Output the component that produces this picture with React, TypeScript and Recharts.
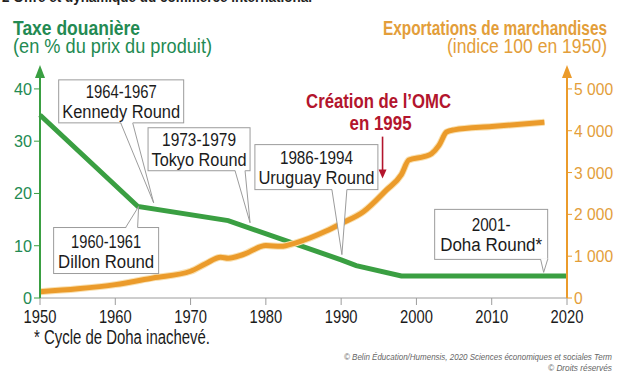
import { LineChart, Line, XAxis, YAxis, ReferenceDot } from "recharts";

// tariff (% of product price)
const tariffYears = [1950, 1963, 1975, 1990, 1992, 1998, 2005, 2020];
const tariffValues = [35, 17.5, 14.8, 7.3, 6.2, 4.2, 4.2, 4.2];

// merchandise exports (index 100 in 1950)
const exportYears = [1950, 1955, 1960, 1965, 1970, 1972, 1974, 1975, 1977, 1980, 1982, 1984, 1988, 1990, 1993, 1996, 1998, 1999, 2001, 2002, 2003, 2004, 2005, 2010, 2017];
const exportValues = [150, 220, 320, 480, 640, 820, 975, 950, 1040, 1255, 1236, 1320, 1600, 1780, 2070, 2580, 2950, 3300, 3380, 3450, 3650, 3970, 4020, 4100, 4200];

const xTicks = [1950, 1960, 1970, 1980, 1990, 2000, 2010, 2020];
const leftTicks = [0, 10, 20, 30, 40];
const rightTicks = [0, 1000, 2000, 3000, 4000, 5000];

// negotiation rounds: label lines + point on the chart they refer to
const rounds = [
  { id: "kennedy", lines: ["1964-1967", "Kennedy Round"], year: 1965.1, value: 18.2 },
  { id: "dillon", lines: ["1960-1961", "Dillon Round"], year: 1963.1, value: 17.5 },
  { id: "tokyo", lines: ["1973-1979", "Tokyo Round"], year: 1977.9, value: 14.4 },
  { id: "uruguay", lines: ["1986-1994", "Uruguay Round"], year: 1990.1, value: 8.3 },
  { id: "doha", lines: ["2001-", "Doha Round*"], year: 2016.9, value: 4.9 },
];

const GREEN = "#3a9f42";
const GREEN_TXT = "#238a52";
const ORANGE = "#eb9b2b";
const ORANGE_TXT = "#e39e3a";
const RED = "#b3152d";
const GREY = "#9c9c9c";
const INK = "#1b1b1b";
const FONT = "'Liberation Sans', Arial, sans-serif";

// box placement relative to the tip of the callout (px), widths of the two text lines
const boxes: Record<string, { dx: number; dy: number; w: number; h: number; t: [number, number]; tw: [number, number] }> = {
  kennedy: { dx: -95, dy: -123, w: 125, h: 43, t: [-33, -21], tw: [71, 118] },
  dillon: { dx: -85, dy: 21, w: 105, h: 46, t: [-13, -1], tw: [70, 96] },
  tokyo: { dx: -102, dy: -95, w: 102, h: 43, t: [-15, -5], tw: [74, 95] },
  uruguay: { dx: -87, dy: -110, w: 123, h: 45, t: [-10, 5], tw: [73, 116] },
  doha: { dx: -109, dy: -63, w: 113, h: 50, t: [-3, 4], tw: [39, 102] },
};

const tariffData = tariffYears.map((year, i) => ({ year, value: tariffValues[i] }));
const exportData = exportYears.map((year, i) => ({ year, value: exportValues[i] }));

function NText(props: any) {
  const { x, y, w, size, bold, italic, anchor = "start", fill = INK, children } = props;
  return (
    <text
      x={x}
      y={y}
      fontSize={size}
      fontFamily={FONT}
      fontWeight={bold ? "bold" : "normal"}
      fontStyle={italic ? "italic" : "normal"}
      textAnchor={anchor}
      fill={fill}
      textLength={w}
      lengthAdjust="spacingAndGlyphs"
    >
      {children}
    </text>
  );
}

function SqueezedTick(props: any) {
  const { x, y, payload, fill, size, sx, anchor, baseShift, format } = props;
  const label = format ? format(payload.value) : String(payload.value);
  return (
    <g transform={`translate(${x},${y + baseShift}) scale(${sx},1)`}>
      <text x={0} y={0} textAnchor={anchor} fontSize={size} fontFamily={FONT} fill={fill}>
        {label}
      </text>
    </g>
  );
}

function Callout(props: any) {
  const { cx, cy, lines, box } = props;
  if (cx == null || cy == null) return null;
  const x0 = cx + box.dx;
  const y0 = cy + box.dy;
  const fromTop = box.dy > 0;
  const edge = fromTop ? y0 : y0 + box.h;
  const inner = fromTop ? edge + 1 : edge - 1;
  const a = cx + box.t[0];
  const b = cx + box.t[1];
  const first = y0 + (box.h - 40) / 2 + 17;
  return (
    <g>
      <rect x={x0} y={y0} width={box.w} height={box.h} fill="#fff" stroke={GREY} strokeWidth={1} />
      <polygon points={`${a},${inner} ${cx},${cy} ${b},${inner}`} fill="#fff" />
      <polyline points={`${a},${edge} ${cx},${cy} ${b},${edge}`} fill="none" stroke={GREY} strokeWidth={1} />
      {lines.map((l: string, i: number) => (
        <NText key={i} x={x0 + box.w / 2} y={first + i * 20} w={box.tw[i]} size={18} anchor="middle">
          {l}
        </NText>
      ))}
    </g>
  );
}

function AxisArrow(props: any) {
  const { cx, cy, color } = props;
  if (cx == null || cy == null) return null;
  return <polygon points={`${cx},${cy - 3} ${cx - 5},${cy + 10} ${cx + 5},${cy + 10}`} fill={color} />;
}

function OmcNote(props: any) {
  const { cx, cy } = props;
  if (cx == null || cy == null) return null;
  return (
    <g>
      <NText x={cx - 4} y={cy - 85} w={145} size={20} bold anchor="middle" fill={RED}>Création de l’OMC</NText>
      <NText x={cx - 2} y={cy - 63} w={62} size={20} bold anchor="middle" fill={RED}>en 1995</NText>
      <line x1={cx} y1={cy - 56} x2={cx} y2={cy - 20} stroke={RED} strokeWidth={1.6} />
      <polygon points={`${cx},${cy - 14} ${cx - 4},${cy - 23} ${cx + 4},${cy - 23}`} fill={RED} />
    </g>
  );
}

const thousands = (v: number) => (v >= 1000 ? `${v / 1000} 000` : `${v}`);

export default function App() {
  return (
    <div style={{ position: "absolute", left: 0, top: 0, width: 620, height: 376, background: "#fff", overflow: "hidden" }}>
      <svg width={620} height={376} style={{ position: "absolute", left: 0, top: 0 }}>
        <NText x={2} y={2} w={310} size={14} bold fill="#222">2  Offre et dynamique du commerce international</NText>
        <NText x={13} y={35} w={127} size={20} bold fill={GREEN_TXT}>Taxe douanière</NText>
        <NText x={13} y={53} w={199} size={20} fill={GREEN_TXT}>(en % du prix du produit)</NText>
        <NText x={607} y={35} w={224} size={20} bold fill={ORANGE_TXT} anchor="end">Exportations de marchandises</NText>
        <NText x={607} y={53} w={160} size={20} fill={ORANGE_TXT} anchor="end">(indice 100 en 1950)</NText>
        <NText x={34} y={344} w={176} size={20}>* Cycle de Doha inachevé.</NText>
        <NText x={612} y={360} w={268} size={9} italic fill="#666" anchor="end">© Belin Éducation/Humensis, 2020 Sciences économiques et sociales Term</NText>
        <NText x={612} y={371} w={64} size={9} italic fill="#666" anchor="end">© Droits réservés</NText>
      </svg>
      <div style={{ position: "absolute", left: 0, top: 0 }}>
        <LineChart width={620} height={376} margin={{ top: 68, right: 0, bottom: 48, left: 0 }}>
          <XAxis
            dataKey="year"
            type="number"
            domain={[1950, 2020]}
            ticks={xTicks}
            allowDuplicatedCategory={false}
            height={30}
            stroke={GREY}
            tickSize={7}
            tickMargin={5}
            tick={(p: any) => <SqueezedTick {...p} fill={INK} size={18} sx={0.82} anchor="middle" baseShift={13} />}
          />
          <YAxis
            yAxisId="l"
            domain={[0, 44]}
            ticks={leftTicks}
            width={40}
            allowDataOverflow
            axisLine={{ stroke: GREEN, strokeWidth: 2 }}
            tickLine={{ stroke: GREEN }}
            tickSize={6}
            tickMargin={2}
            tick={(p: any) => <SqueezedTick {...p} fill={GREEN_TXT} size={17} sx={0.95} anchor="end" baseShift={6} />}
          />
          <YAxis
            yAxisId="r"
            orientation="right"
            domain={[0, 5500]}
            ticks={rightTicks}
            width={53}
            allowDataOverflow
            axisLine={{ stroke: ORANGE, strokeWidth: 2 }}
            tickLine={{ stroke: ORANGE }}
            tickSize={5}
            tickMargin={2}
            tick={(p: any) => <SqueezedTick {...p} fill={ORANGE_TXT} size={17} sx={0.92} anchor="start" baseShift={6} format={thousands} />}
          />
          <Line
            yAxisId="l"
            data={tariffData}
            dataKey="value"
            type="linear"
            stroke={GREEN}
            strokeWidth={5}
            dot={false}
            isAnimationActive={false}
          />
          <Line
            yAxisId="r"
            data={exportData}
            dataKey="value"
            type="monotone"
            stroke="#f9e0b0"
            strokeWidth={7}
            dot={false}
            isAnimationActive={false}
          />
          <Line
            yAxisId="r"
            data={exportData}
            dataKey="value"
            type="monotone"
            stroke={ORANGE}
            strokeWidth={5}
            dot={false}
            isAnimationActive={false}
          />
          <ReferenceDot yAxisId="l" x={1950} y={44} ifOverflow="visible" shape={(p: any) => <AxisArrow {...p} color={GREEN} />} />
          <ReferenceDot yAxisId="r" x={2020} y={5500} ifOverflow="visible" shape={(p: any) => <AxisArrow {...p} color={ORANGE} />} />
          <ReferenceDot yAxisId="r" x={1995.5} y={2520} ifOverflow="visible" shape={(p: any) => <OmcNote {...p} />} />
          {rounds.map((r) => (
            <ReferenceDot
              key={r.id}
              yAxisId="l"
              x={r.year}
              y={r.value}
              ifOverflow="visible"
              shape={(p: any) => <Callout {...p} lines={r.lines} box={boxes[r.id]} />}
            />
          ))}
        </LineChart>
      </div>
    </div>
  );
}
